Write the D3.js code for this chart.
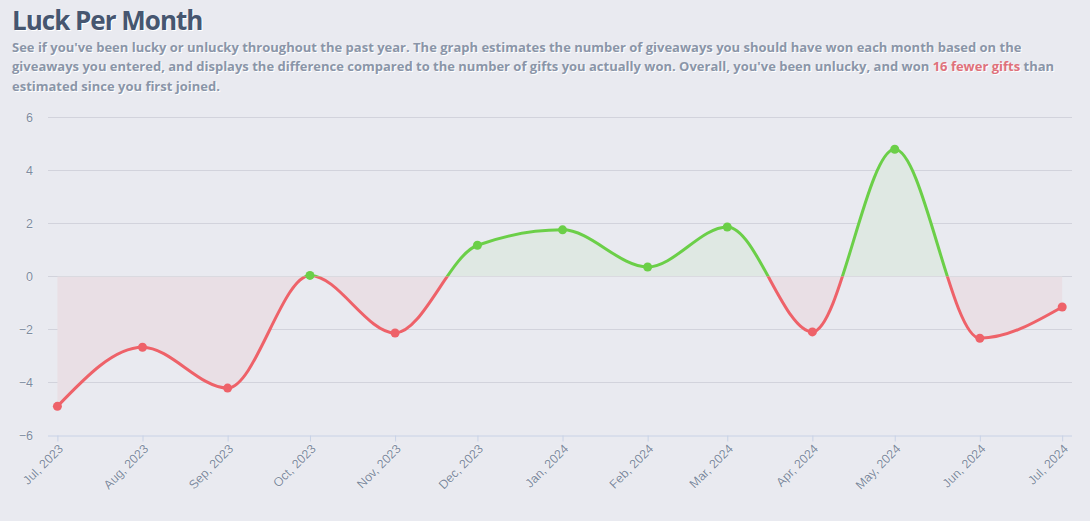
<!DOCTYPE html>
<html>
<head>
<meta charset="utf-8">
<script src="https://cdn.jsdelivr.net/npm/d3@7"></script>
<style>
  html, body { margin: 0; padding: 0; background: #e9eaf0; }
  body { width: 1090px; height: 521px; overflow: hidden; position: relative; font-family: "Open Sans", sans-serif; }
  #title {
    position: absolute; left: 12px; top: 2px; margin: 0;
    font-size: 26px; font-weight: 700; color: #465670; letter-spacing: -1px;
    text-shadow: 1px 1px 0 #ffffff;
  }
  #desc {
    position: absolute; left: 12px; top: 38px; width: 1070px; margin: 0;
    font-size: 13px; font-weight: 700; line-height: 19.3px; color: #8a95a8;
    text-shadow: 1px 1px 0 #ffffff;
  }
  #desc div { white-space: nowrap; }
  #desc .bad { color: #e0717b; }
  #chart { position: absolute; left: 0; top: 0; }
  .tick text { font-family: "Liberation Sans", Arial, sans-serif; }
</style>
</head>
<body>
<h1 id="title">Luck Per Month</h1>
<div id="desc">
  <div>See if you've been lucky or unlucky throughout the past year. The graph estimates the number of giveaways you should have won each month based on the</div>
  <div><span>giveaways you entered, and displays the difference compared to the number of gifts you actually won. Overall, you've been unlucky, and won</span> <span class="bad">16 fewer gifts</span> <span>than</span></div>
  <div>estimated since you first joined.</div>
</div>
<div id="chart"></div>
<script>
// Months (first of each month) and luck difference per month
const months = ['2023-07-01', '2023-08-01', '2023-09-01', '2023-10-01', '2023-11-01', '2023-12-01',
                '2024-01-01', '2024-02-01', '2024-03-01', '2024-04-01', '2024-05-01', '2024-06-01', '2024-07-01'];
const luck = [-4.9, -2.67, -4.21, 0.04, -2.13, 1.18, 1.76, 0.36, 1.87, -2.09, 4.8, -2.33, -1.15];
const yTicks = [-6, -4, -2, 0, 2, 4, 6];

const w = 1090;
const h = 521;
const plot = {l: 48, r: 1072, t: 117.5, b: 435.5};

const red = '#ee6269';
const green = '#6bcf48';

const parse = d3.timeParse('%Y-%m-%d');
const data = months.map((m, i) => ({date: parse(m), value: luck[i]}));

const svg = d3.select('#chart')
    .append('svg')
    .attr('width', w)
    .attr('height', h);

// scales
const xScale = d3.scaleTime()
    .domain(d3.extent(data, d => d.date))
    .range([57.4, 1062.2]);
const yScale = d3.scaleLinear()
    .domain([-6, 6])
    .range([plot.b, plot.t]);

// grid lines
svg.append('g')
    .selectAll('line')
    .data(yTicks.filter(t => t > -6))
    .join('line')
    .attr('x1', plot.l)
    .attr('x2', plot.r)
    .attr('y1', d => yScale(d))
    .attr('y2', d => yScale(d))
    .attr('stroke', '#d2d3dc')
    .attr('stroke-width', 1);

// y axis labels
const yAxis = d3.axisLeft(yScale)
    .tickValues(yTicks)
    .tickSize(0)
    .tickPadding(0);
const yg = svg.append('g')
    .attr('transform', `translate(33, 0)`)
    .call(yAxis);
yg.select('.domain').remove();
yg.selectAll('text')
    .attr('fill', '#7e8ba0')
    .attr('font-size', 12.5)
    .style('paint-order', 'stroke')
    .attr('stroke', '#ffffff')
    .attr('stroke-width', 0.6)
    .attr('dy', '0.35em');

// x axis
const xAxis = d3.axisBottom(xScale)
    .tickValues(data.map(d => d.date))
    .tickFormat(d3.timeFormat('%b, %Y'))
    .tickSize(6)
    .tickSizeOuter(0);
const xg = svg.append('g')
    .attr('transform', `translate(0, ${plot.b})`)
    .call(xAxis);
xg.select('.domain')
    .attr('d', `M${plot.l},0.5H${plot.r}`)
    .attr('stroke', '#c8d2e6');
xg.selectAll('.tick line').attr('stroke', '#c8d2e6');
xg.selectAll('.tick text')
    .attr('fill', '#7e8ba0')
    .attr('font-size', 12.5)
    .attr('text-anchor', 'end')
    .attr('transform', 'translate(3, 11) rotate(-45)')
    .attr('x', 0)
    .attr('y', 0)
    .attr('dy', '0.35em')
    .style('paint-order', 'stroke')
    .attr('stroke', '#ffffff')
    .attr('stroke-width', 0.6);

// clip paths above and below zero
const defs = svg.append('defs');
defs.append('clipPath').attr('id', 'above')
    .append('rect')
    .attr('x', 0).attr('y', 0)
    .attr('width', w).attr('height', yScale(0));
defs.append('clipPath').attr('id', 'below')
    .append('rect')
    .attr('x', 0).attr('y', yScale(0))
    .attr('width', w).attr('height', h - yScale(0));

const curve = d3.curveMonotoneX;
const area = d3.area()
    .x(d => xScale(d.date))
    .y0(yScale(0))
    .y1(d => yScale(d.value))
    .curve(curve);
const line = d3.line()
    .x(d => xScale(d.date))
    .y(d => yScale(d.value))
    .curve(curve);

const parts = [
    {clip: 'above', color: green, fill: '#dfe8e3'},
    {clip: 'below', color: red, fill: '#e9dfe5'}
];

parts.forEach(p => {
    svg.append('path')
        .datum(data)
        .attr('clip-path', `url(#${p.clip})`)
        .attr('d', area)
        .attr('fill', p.fill);
});
parts.forEach(p => {
    svg.append('path')
        .datum(data)
        .attr('clip-path', `url(#${p.clip})`)
        .attr('d', line)
        .attr('fill', 'none')
        .attr('stroke', p.color)
        .attr('stroke-width', 3);
});

// points
svg.append('g')
    .selectAll('circle')
    .data(data)
    .join('circle')
    .attr('cx', d => xScale(d.date))
    .attr('cy', d => yScale(d.value))
    .attr('r', 4.5)
    .attr('fill', d => d.value >= 0 ? green : red);
</script>
</body>
</html>
